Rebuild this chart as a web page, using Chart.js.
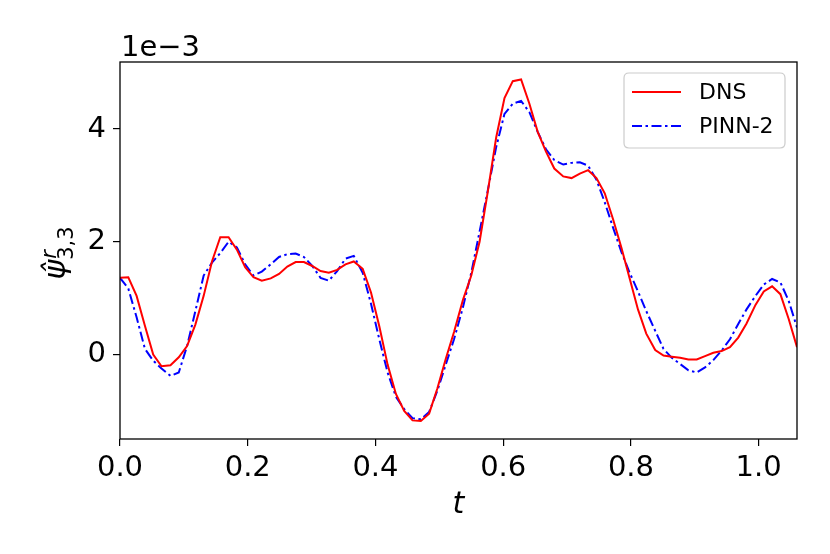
<!DOCTYPE html>
<html>
<head>
<meta charset="utf-8">
<script src="https://cdn.jsdelivr.net/npm/chart.js@4.4.1/dist/chart.umd.min.js"></script>
<style>
html,body{margin:0;padding:0;background:#fff;}
#wrap{width:830px;height:554px;position:relative;}
</style>
</head>
<body>
<div id="wrap"><canvas id="c" width="830" height="554"></canvas></div>
<script>
// time samples t
const tValues = [0.000,0.013,0.026,0.039,0.052,0.065,0.079,0.092,0.105,0.118,0.131,0.144,0.157,0.170,0.183,0.196,0.209,0.222,0.236,0.249,0.262,0.275,0.288,0.301,0.314,0.327,0.340,0.353,0.366,0.380,0.393,0.406,0.419,0.432,0.445,0.458,0.471,0.484,0.497,0.510,0.523,0.537,0.550,0.563,0.576,0.589,0.602,0.615,0.628,0.641,0.654,0.667,0.680,0.694,0.707,0.720,0.733,0.746,0.759,0.772,0.785,0.798,0.811,0.824,0.838,0.851,0.864,0.877,0.890,0.903,0.916,0.929,0.942,0.955,0.968,0.981,0.995,1.008,1.021,1.034,1.047,1.060];
// values in units of 1e-3
const dnsValues = [1.36,1.37,1.04,0.51,0.00,-0.21,-0.19,-0.05,0.15,0.53,1.04,1.65,2.08,2.08,1.86,1.55,1.37,1.31,1.35,1.43,1.56,1.64,1.64,1.57,1.48,1.45,1.50,1.60,1.65,1.52,1.10,0.50,-0.18,-0.70,-1.00,-1.17,-1.18,-1.05,-0.60,-0.08,0.40,0.97,1.40,2.00,2.90,3.85,4.55,4.85,4.88,4.45,3.95,3.60,3.30,3.16,3.13,3.21,3.27,3.13,2.86,2.40,1.90,1.35,0.80,0.37,0.08,-0.02,-0.04,-0.06,-0.09,-0.09,-0.03,0.03,0.06,0.13,0.30,0.55,0.88,1.12,1.21,1.07,0.63,0.13];
const pinnValues = [1.36,1.17,0.66,0.10,-0.11,-0.25,-0.38,-0.32,0.15,0.77,1.40,1.63,1.80,2.00,1.90,1.60,1.40,1.47,1.60,1.73,1.78,1.79,1.73,1.57,1.36,1.31,1.48,1.70,1.75,1.45,0.90,0.27,-0.32,-0.75,-0.97,-1.13,-1.15,-1.02,-0.64,-0.18,0.27,0.84,1.45,2.18,2.92,3.68,4.27,4.45,4.50,4.30,3.95,3.64,3.45,3.37,3.40,3.41,3.35,3.10,2.70,2.25,1.82,1.45,1.12,0.77,0.42,0.10,-0.06,-0.17,-0.28,-0.32,-0.23,-0.10,0.07,0.27,0.54,0.80,1.04,1.24,1.34,1.28,0.95,0.48];
const xTickValues = [0.0,0.2,0.4,0.6,0.8,1.0];
const yTickValues = [0,2,4];
const seriesNames = ['DNS','PINN-2'];

const FONT = "'DejaVu Sans', sans-serif";

const toPts = (ys) => tValues.map((t,i)=>({x:t,y:ys[i]}));

const framePlugin = {
  id:'frame',
  afterDatasetsDraw(chart){
    const {ctx, chartArea:a} = chart;
    ctx.save();
    ctx.strokeStyle='#000';
    ctx.lineWidth=1.3;
    ctx.strokeRect(a.left, a.top, a.right-a.left, a.bottom-a.top);
    ctx.restore();
  },
  afterDraw(chart){
    const {ctx, chartArea:a} = chart;
    ctx.save();
    // offset text
    ctx.fillStyle='#000';
    ctx.font = "29px "+FONT;
    ctx.textAlign='left';
    ctx.textBaseline='alphabetic';
    ctx.fillText('1e\u22123', a.left+1, 56);
    // x label
    ctx.font = "italic 30px "+FONT;
    ctx.textAlign='center';
    ctx.fillText('t', (a.left+a.right)/2, 513);
    // y label rotated
    ctx.translate(65, 253);
    ctx.rotate(-Math.PI/2);
    ctx.textAlign='left';
    ctx.font = "italic 30px "+FONT;
    const main = '\u03C8\u0302';
    const mw = ctx.measureText('\u03C8').width;
    ctx.font = "21px "+FONT;
    const sw = ctx.measureText('3,3').width;
    const total = mw + sw;
    let x0 = -total/2;
    ctx.font = "italic 30px "+FONT;
    ctx.fillText(main, x0, 0);
    ctx.font = "italic 21px "+FONT;
    ctx.fillText('r', x0+mw+1, -9);
    ctx.font = "21px "+FONT;
    ctx.fillText('3,3', x0+mw, 8);
    ctx.restore();

    // legend
    ctx.save();
    const bx=624, by=73, bw=161, bh=75, r=5;
    ctx.beginPath();
    ctx.moveTo(bx+r,by);
    ctx.lineTo(bx+bw-r,by); ctx.quadraticCurveTo(bx+bw,by,bx+bw,by+r);
    ctx.lineTo(bx+bw,by+bh-r); ctx.quadraticCurveTo(bx+bw,by+bh,bx+bw-r,by+bh);
    ctx.lineTo(bx+r,by+bh); ctx.quadraticCurveTo(bx,by+bh,bx,by+bh-r);
    ctx.lineTo(bx,by+r); ctx.quadraticCurveTo(bx,by,bx+r,by);
    ctx.closePath();
    ctx.fillStyle='rgba(255,255,255,0.8)';
    ctx.fill();
    ctx.strokeStyle='#cccccc';
    ctx.lineWidth=1.2;
    ctx.stroke();
    const ds = chart.data.datasets;
    const rows=[92,126];
    ds.forEach((d,i)=>{
      ctx.beginPath();
      ctx.strokeStyle=d.borderColor;
      ctx.lineWidth=d.borderWidth;
      ctx.setLineDash(d.borderDash||[]);
      ctx.moveTo(632,rows[i]); ctx.lineTo(681,rows[i]);
      ctx.stroke();
      ctx.setLineDash([]);
      ctx.fillStyle='#000';
      ctx.font="22px "+FONT;
      ctx.textAlign='left';
      ctx.textBaseline='middle';
      ctx.fillText(d.label, 699, rows[i]+1);
    });
    ctx.restore();
  }
};

new Chart(document.getElementById('c'), {
  type:'line',
  data:{
    datasets:[
      {label:seriesNames[0], data:toPts(dnsValues), borderColor:'#ff0000', borderWidth:2, pointRadius:0, tension:0, fill:false},
      {label:seriesNames[1], data:toPts(pinnValues), borderColor:'#0000ff', borderWidth:2, borderDash:[10,3.5,2.5,3.5], pointRadius:0, tension:0, fill:false}
    ]
  },
  options:{
    responsive:false,
    animation:false,
    events:[],
    layout:{padding:{left:0,right:33,top:62,bottom:0}},
    plugins:{legend:{display:false}, tooltip:{enabled:false}},
    scales:{
      x:{
        type:'linear', min:0, max:1.06,
        afterBuildTicks(s){ s.ticks = xTickValues.map(v=>({value:v})); },
        afterFit(s){ s.height = 115; },
        ticks:{ color:'#000', font:{family:FONT, size:29}, padding:5, maxRotation:0, autoSkip:false,
          callback:(v)=>Number(v).toFixed(1) },
        grid:{ drawOnChartArea:false, drawTicks:true, tickLength:7, color:'#000', lineWidth:1.2 },
        border:{ display:false }
      },
      y:{
        type:'linear', min:-1.5, max:5.19,
        afterBuildTicks(s){ s.ticks = yTickValues.map(v=>({value:v})); },
        afterFit(s){ s.width = 120; },
        ticks:{ color:'#000', font:{family:FONT, size:29}, padding:7, callback:(v)=>String(v) },
        grid:{ drawOnChartArea:false, drawTicks:true, tickLength:7, color:'#000', lineWidth:1.2 },
        border:{ display:false }
      }
    }
  },
  plugins:[framePlugin]
});
</script>
</body>
</html>
